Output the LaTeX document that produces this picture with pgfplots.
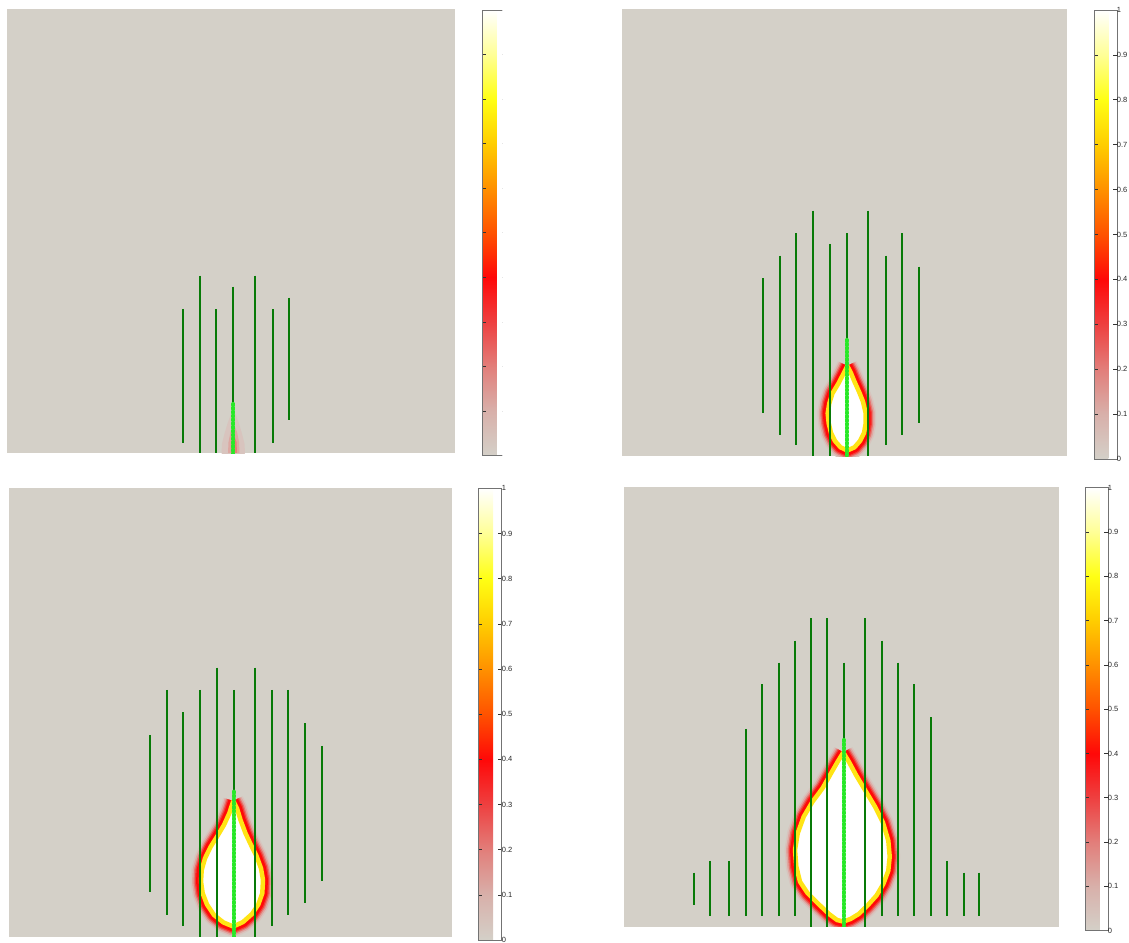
\documentclass[border=0pt]{standalone}
\usepackage{pgfplots}
\pgfplotsset{compat=1.18}
\usepackage{fontspec}
\setmainfont{Liberation Sans}

\definecolor{bg}{RGB}{212,208,200}
\definecolor{lg}{RGB}{8,122,8}
\definecolor{dg}{RGB}{40,232,40}
\definecolor{h1}{RGB}{216,196,190}
\definecolor{h2}{RGB}{221,168,162}
\definecolor{h3}{RGB}{230,118,112}
\definecolor{h3b}{RGB}{242,60,56}
\definecolor{h4}{RGB}{255,10,8}
\definecolor{h5}{RGB}{255,228,20}

\pgfplotsset{
  colormap={flame}{rgb255(0cm)=(212,208,200) rgb255(1cm)=(216,176,170) rgb255(2cm)=(226,126,122) rgb255(3cm)=(238,64,64) rgb255(4cm)=(255,8,8) rgb255(5cm)=(255,82,0) rgb255(6cm)=(255,145,0) rgb255(7cm)=(255,205,0) rgb255(8cm)=(255,255,20) rgb255(9cm)=(255,255,150) rgb255(10cm)=(255,255,255)},
  panel/.style={scale only axis, anchor=south west,
    axis line style={draw=none}, ticks=none,
    axis background/.style={fill=bg},
    point meta min=0, point meta max=1,
    colormap name=flame, colorbar, unbounded coords=jump},
  every colorbar/.append style={
    at={(parent axis.north east)}, anchor=north west, scale only axis,
    ytick={0,0.1,0.2,0.3,0.4,0.5,0.6,0.7,0.8,0.9,1},
    yticklabels={0,0.1,0.2,0.3,0.4,0.5,0.6,0.7,0.8,0.9,1},
    tick align=inside, ytick pos=both, yticklabel pos=right,
    major tick length=3.5pt,
    axis line style={draw=black!55, line width=0.7pt},
    every tick/.style={black!80, line width=0.6pt},
    yticklabel style={font=\fontsize{7.5}{8}\selectfont, xshift=-3.5pt, text=black!85}},
  glines/.style={lg, line width=2pt},
  gdots/.style={dg, line width=4.2pt, line cap=round, dash pattern=on 1.2pt off 2.6pt},
}

\newcommand{\heat}[1]{%
\addplot[draw=h1,line width=21pt,line join=round] coordinates {#1};
\addplot[draw=h2,line width=18pt,line join=round] coordinates {#1};
\addplot[draw=h3,line width=15pt,line join=round] coordinates {#1};
\addplot[draw=h3b,line width=12.5pt,line join=round] coordinates {#1};
\addplot[draw=h4,line width=10pt,line join=round] coordinates {#1};
\addplot[fill=white,draw=none] coordinates {#1};
\addplot[draw=h5,line width=4.5pt,line join=round] coordinates {#1};
}

\begin{document}
\begin{tikzpicture}
\useasboundingbox (0,0) rectangle (1129pt,942pt);

% ---------- panel 1 (top left) ----------
\begin{scope}
\clip (0,0) rectangle (502pt,942pt);
\begin{axis}[panel, at={(7pt,488.5pt)},
  xmin=7, xmax=455, ymin=488.5, ymax=932.5, width=448pt, height=444pt,
  colorbar style={xshift=19pt, yshift=-0.5pt, width=23pt, height=445.5pt}]
\addplot[draw=h1, fill=h1, line width=5pt, line join=round] coordinates {(233.3,527) (230,518) (227,508) (224.5,498) (224,489) (242.5,489) (242,498) (239.5,508) (236.5,518) (233.3,527)};
\addplot[draw=none, fill=h2] coordinates {(233.3,519) (230.5,510) (228.5,500) (228,489) (239.5,489) (239,500) (237,510) (233.3,519)};
\addplot[draw=none, fill={rgb,255:red,230;green,128;blue,122}] coordinates {(233.5,508) (231.5,500) (231,489) (237,489) (236.5,500) (233.5,508)};
\addplot[glines] coordinates {(182.7,633)(182.7,499.3) (182.7,nan)
  (200,666.3)(200,488.5) (200,nan) (216,632.7)(216,488.5) (216,nan)
  (233.3,655.3)(233.3,488.5) (233.3,nan) (255.3,666.3)(255.3,488.5) (255.3,nan)
  (272.7,632.7)(272.7,499.3) (272.7,nan) (289,644.3)(289,522)};
\addplot[gdots] coordinates {(233.3,538) (233.3,488.5)};
\end{axis}
\end{scope}

% ---------- panel 2 (top right) ----------
\begin{axis}[panel, at={(621.7pt,485.5pt)},
  xmin=621.7, xmax=1066.7, ymin=485.5, ymax=932.5, width=445pt, height=447pt,
  colorbar style={xshift=19pt, yshift=-0.5pt, width=22.6pt, height=449pt}]
\heat{(847.3,576) (843.3,568) (838.5,558.7) (832.5,548.7) (829.3,538.7) (827.7,528.7) (828.7,518.7) (831,509) (835,501) (840.5,494.7) (847.3,491.5) (854.5,494.7) (860,501) (864,509) (865.7,518.7) (865.7,528.7) (863,540.3) (859,550.3) (854.5,560.3) (850.7,569.5) (847.3,576)}
\addplot[glines] coordinates {(762.7,663.7)(762.7,529.3) (762.7,nan)
  (780,686.3)(780,507) (780,nan) (796.3,708.7)(796.3,496.7) (796.3,nan)
  (813.3,731.3)(813.3,485.5) (813.3,nan) (829.7,698)(829.7,485.5) (829.7,nan)
  (846.7,708.7)(846.7,485.5) (846.7,nan) (868.3,731.3)(868.3,485.5) (868.3,nan)
  (885.7,686.3)(885.7,496.7) (885.7,nan) (902.3,708.7)(902.3,507) (902.3,nan)
  (919,675.3)(919,519.3)};
\addplot[gdots] coordinates {(846.7,602) (846.7,485.5)};
\end{axis}

% ---------- panel 3 (bottom left) ----------
\begin{axis}[panel, at={(9.3pt,5.3pt)},
  xmin=9.3, xmax=452.3, ymin=5.3, ymax=454.3, width=443pt, height=449pt,
  colorbar style={xshift=18pt, yshift=-0.6pt, width=23pt, height=451.7pt}]
\heat{(233.3,141) (229.3,128.7) (224,117) (217,105.3) (210.7,95.3) (205,83.7) (201.7,72) (201,60.3) (202.7,48.7) (207,37.5) (214,27) (223.5,19.5) (233.3,15.5) (243,20) (252,28) (258.3,37.5) (262.3,48.7) (263,62) (261,73.7) (256.5,86) (251,97) (245.5,108.7) (240.5,122) (237,133.7) (233.3,141)}
\addplot[glines] coordinates {(150,207)(150,50) (150,nan)
  (167.3,252)(167.3,27) (167.3,nan) (183.3,229.7)(183.3,16) (183.3,nan)
  (200.3,252)(200.3,5.3) (200.3,nan) (216.7,274.3)(216.7,5.3) (216.7,nan)
  (233.7,252)(233.7,5.3) (233.7,nan) (255,274.3)(255,5.3) (255,nan)
  (272,252)(272,16) (272,nan) (288.3,252)(288.3,27) (288.3,nan)
  (305,218.7)(305,38.7) (305,nan) (322.3,196)(322.3,61)};
\addplot[gdots] coordinates {(233.7,150.3) (233.7,5.3)};
\end{axis}

% ---------- panel 4 (bottom right) ----------
\begin{axis}[panel, at={(624pt,15.3pt)},
  xmin=624, xmax=1059, ymin=15.3, ymax=455.3, width=435pt, height=440pt,
  colorbar style={xshift=17.7pt, yshift=-1pt, width=22.6pt, height=443pt}]
\heat{(843.3,189.5) (837.5,180) (831,168.7) (822.5,153.7) (812.5,140.3) (803.7,125.3) (797.7,108.7) (795,92) (796.3,75.3) (800,60.3) (807.5,49) (819,37.5) (829,28) (837,22) (843.3,20.5) (850.5,23) (858.7,28) (867.5,36.5) (876.5,46.5) (883.3,58) (888.3,71.3) (889.7,85.3) (888.3,101.3) (883,119.3) (875,135.3) (866,150.3) (856,167) (849,180) (843.3,189.5)}
\addplot[glines] coordinates {(694,69.3)(694,37) (694,nan)
  (710,81)(710,26) (710,nan) (729.3,81)(729.3,26) (729.3,nan)
  (746,213)(746,26) (746,nan) (762,257.7)(762,26) (762,nan)
  (778.7,279.3)(778.7,26) (778.7,nan) (794.7,301.3)(794.7,26) (794.7,nan)
  (811,323.7)(811,15.3) (811,nan) (827,323.7)(827,15.3) (827,nan)
  (843.7,279.3)(843.7,15.3) (843.7,nan) (865,323.7)(865,15.3) (865,nan)
  (881.7,301.3)(881.7,26) (881.7,nan) (897.7,279.3)(897.7,26) (897.7,nan)
  (914.3,257.7)(914.3,26) (914.3,nan) (931,224.7)(931,26) (931,nan)
  (946.7,81)(946.7,26) (946.7,nan) (963.7,69.3)(963.7,26) (963.7,nan)
  (979.3,69.3)(979.3,26)};
\addplot[gdots] coordinates {(843.7,202) (843.7,15.3)};
\end{axis}
\end{tikzpicture}
\end{document}
